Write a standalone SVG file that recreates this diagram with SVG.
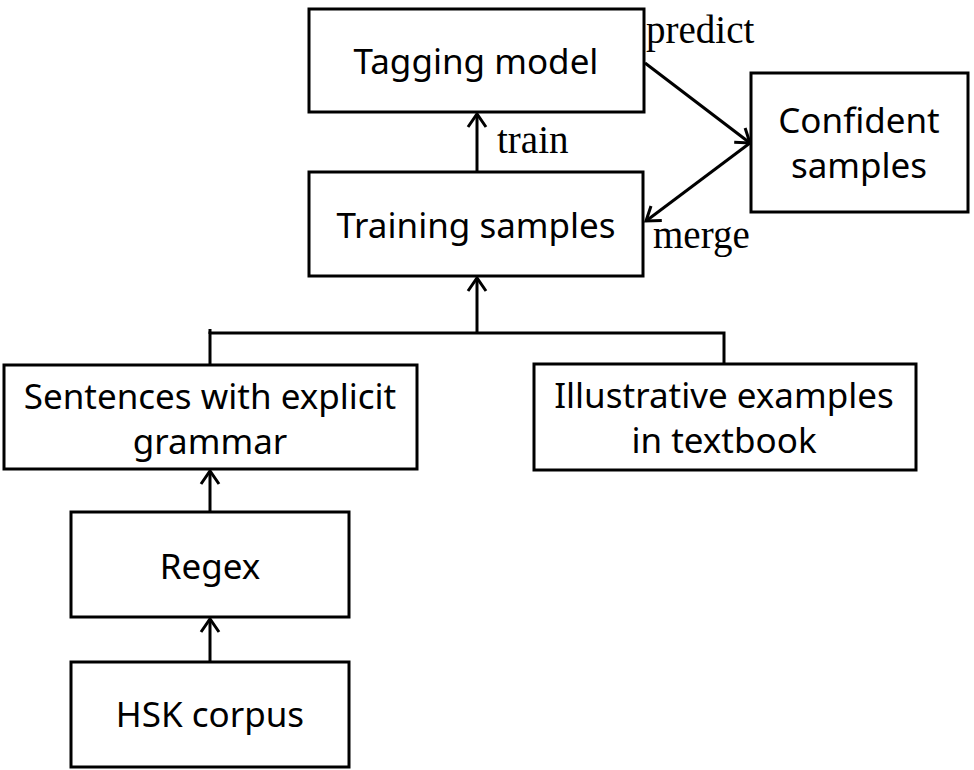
<svg xmlns="http://www.w3.org/2000/svg" width="974" height="770" viewBox="0 0 974 770">
<style>
.box{fill:#fff;stroke:#000;stroke-width:3}
.t{font-family:"Noto Sans","Liberation Sans",sans-serif;font-size:35px;text-anchor:middle;fill:#000}
.lbl{font-family:"Liberation Serif","Times New Roman",serif;font-size:39px;fill:#000}
.c{fill:none;stroke:#000;stroke-width:3}
</style>
<defs>
<marker id="ah" markerUnits="userSpaceOnUse" markerWidth="22" markerHeight="22" viewBox="0 0 22 22" refX="16" refY="11" orient="auto">
<path d="M3,2 L16,11 L3,20" fill="none" stroke="#000" stroke-width="3"/>
</marker>
</defs>
<rect width="974" height="770" fill="#fff"/>
<g id="connectors">
<line class="c" x1="477" y1="171" x2="477" y2="114" marker-end="url(#ah)"/>
<line class="c" x1="645" y1="63" x2="750" y2="143" marker-end="url(#ah)"/>
<line class="c" x1="750" y1="143" x2="646" y2="221" marker-end="url(#ah)"/>
<polyline class="c" points="210,364 210,333 724,333 724,363"/>
<line class="c" x1="210" y1="329" x2="210" y2="334"/>
<line class="c" x1="477" y1="333" x2="477" y2="278" marker-end="url(#ah)"/>
<line class="c" x1="210" y1="512" x2="210" y2="471" marker-end="url(#ah)"/>
<line class="c" x1="210" y1="662" x2="210" y2="619" marker-end="url(#ah)"/>
</g>
<g id="tagging-model">
<rect class="box" x="309" y="9" width="335" height="103"/>
<text class="t" x="476" y="74">Tagging model</text>
</g>
<g id="training-samples">
<rect class="box" x="309" y="172" width="334" height="104"/>
<text class="t" x="476" y="238">Training samples</text>
</g>
<g id="confident-samples">
<rect class="box" x="751" y="73" width="217" height="139"/>
<text class="t" x="859" y="133">Confident</text>
<text class="t" x="859" y="178">samples</text>
</g>
<g id="sentences">
<rect class="box" x="4" y="365" width="413" height="104"/>
<text class="t" x="210" y="409">Sentences with explicit</text>
<text class="t" x="210" y="454">grammar</text>
</g>
<g id="illustrative">
<rect class="box" x="534" y="364" width="382" height="106"/>
<text class="t" x="724" y="408">Illustrative examples</text>
<text class="t" x="724" y="453">in textbook</text>
</g>
<g id="regex">
<rect class="box" x="71" y="512" width="278" height="105"/>
<text class="t" x="210" y="579">Regex</text>
</g>
<g id="hsk-corpus">
<rect class="box" x="71" y="662" width="278" height="105"/>
<text class="t" x="210" y="727">HSK corpus</text>
</g>
<g id="labels">
<text class="lbl" x="646" y="43">predict</text>
<text class="lbl" x="497" y="153">train</text>
<text class="lbl" x="653" y="248">merge</text>
</g>
</svg>
